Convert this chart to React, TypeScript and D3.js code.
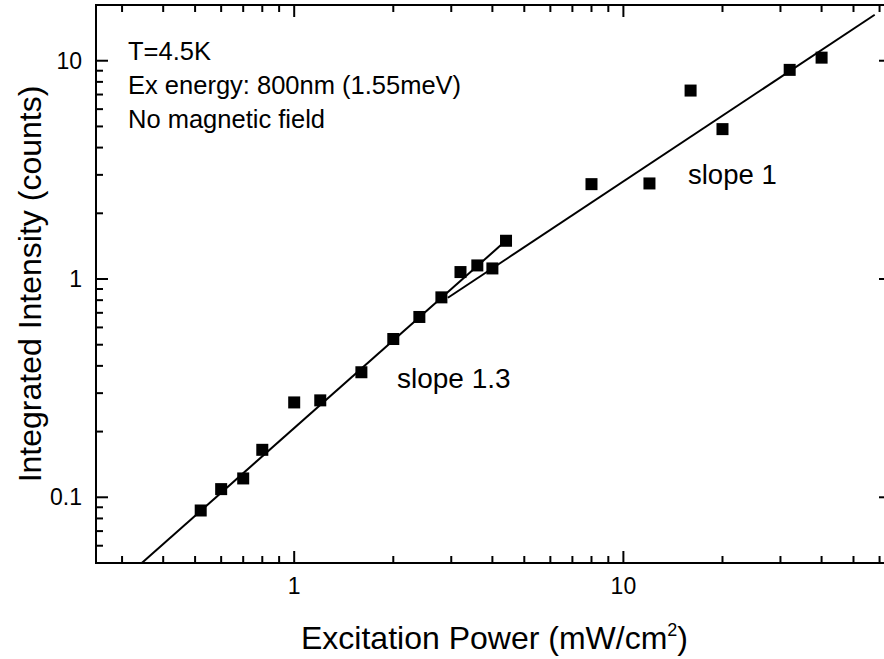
import React from "react";
import * as d3 from "d3";

// ---- data ----
const powers = [0.52, 0.6, 0.7, 0.8, 1.0, 1.2, 1.6, 2.0, 2.4, 2.8, 3.2, 3.6, 4.0, 4.4, 8, 12, 16, 20, 32, 40];
const intensities = [0.087, 0.109, 0.122, 0.165, 0.272, 0.278, 0.374, 0.531, 0.67, 0.824, 1.076, 1.154, 1.118, 1.497, 2.72, 2.74, 7.3, 4.86, 9.08, 10.33];

// power-law fits: I = amp * P^slope over [from, to]
const fitSlopes = [1.335, 1.0];
const fitAmps = [0.2075, 0.28];
const fitFrom = [0.3, 2.93];
const fitTo = [4.4, 58];

const xMajor = [1, 10];
const xMinor = [0.3, 0.4, 0.5, 0.6, 0.7, 0.8, 0.9, 2, 3, 4, 5, 6, 7, 8, 9, 20, 30, 40, 50, 60];
const yMajor = [0.1, 1, 10];
const yMinor = [0.06, 0.07, 0.08, 0.09, 0.2, 0.3, 0.4, 0.5, 0.6, 0.7, 0.8, 0.9, 2, 3, 4, 5, 6, 7, 8, 9];

const notes = ["T=4.5K", "Ex energy: 800nm (1.55meV)", "No magnetic field"];
const slopeLabels = ["slope 1.3", "slope 1"];

const W = 884;
const H = 659;
const L = 96, R = 891, T = 5, B = 563;
const FONT = "'Liberation Sans', Arial, sans-serif";

export default function App() {
  const x = d3.scaleLog().domain([0.25, 65]).range([L, R]);
  const y = d3.scaleLog().domain([0.05, 18]).range([B, T]);

  const fitPaths = fitSlopes.map((s, i) => {
    const pts: [number, number][] = [fitFrom[i], fitTo[i]].map((p) => [x(p), y(fitAmps[i] * Math.pow(p, s))]);
    return d3.line()(pts) as string;
  });

  const MAJ = 12, MIN = 7;
  const sq = 12;

  return (
    <svg width={W} height={H} style={{ position: "absolute", left: 0, top: 0, background: "#fff" }} fontFamily={FONT}>
      <rect x={0} y={0} width={W} height={H} fill="#fff" />
      <defs>
        <clipPath id="plot">
          <rect x={L} y={T} width={R - L} height={B - T} />
        </clipPath>
      </defs>
      {/* fit lines */}
      <g clipPath="url(#plot)">
        {fitPaths.map((d, i) => (
          <path key={i} d={d} fill="none" stroke="#000" strokeWidth={2} />
        ))}
      </g>
      {/* points */}
      {powers.map((p, i) => (
        <rect key={i} x={x(p) - sq / 2} y={y(intensities[i]) - sq / 2} width={sq} height={sq} fill="#000" />
      ))}
      {/* frame */}
      <rect x={L} y={T} width={R - L} height={B - T} fill="none" stroke="#000" strokeWidth={2} />
      {/* x ticks */}
      {xMajor.map((v) => (
        <g key={"xM" + v}>
          <line x1={x(v)} x2={x(v)} y1={B} y2={B - MAJ} stroke="#000" strokeWidth={2} />
          <line x1={x(v)} x2={x(v)} y1={T} y2={T + MAJ} stroke="#000" strokeWidth={2} />
          <text x={x(v)} y={594} textAnchor="middle" fontSize={23}>{String(v)}</text>
        </g>
      ))}
      {xMinor.map((v) => (
        <g key={"xm" + v}>
          <line x1={x(v)} x2={x(v)} y1={B} y2={B - MIN} stroke="#000" strokeWidth={2} />
          <line x1={x(v)} x2={x(v)} y1={T} y2={T + MIN} stroke="#000" strokeWidth={2} />
        </g>
      ))}
      {/* y ticks */}
      {yMajor.map((v) => (
        <g key={"yM" + v}>
          <line x1={L} x2={L + MAJ} y1={y(v)} y2={y(v)} stroke="#000" strokeWidth={2} />
          <line x1={R} x2={R - MAJ} y1={y(v)} y2={y(v)} stroke="#000" strokeWidth={2} />
          <text x={82} y={y(v) + 8} textAnchor="end" fontSize={23}>{String(v)}</text>
        </g>
      ))}
      {yMinor.map((v) => (
        <g key={"ym" + v}>
          <line x1={L} x2={L + MIN} y1={y(v)} y2={y(v)} stroke="#000" strokeWidth={2} />
          <line x1={R} x2={R - MIN} y1={y(v)} y2={y(v)} stroke="#000" strokeWidth={2} />
        </g>
      ))}
      {/* annotations */}
      {notes.map((t, i) => (
        <text key={t} x={128} y={60 + i * 34} fontSize={25.5}>{t}</text>
      ))}
      <text x={397} y={388} fontSize={28}>{slopeLabels[0]}</text>
      <text x={688} y={184} fontSize={27.5}>{slopeLabels[1]}</text>
      {/* axis titles */}
      <text x={(L + R) / 2 + 1} y={649} textAnchor="middle" fontSize={32}>
        Excitation Power (mW/cm<tspan dy={-13} fontSize={18}>2</tspan><tspan dy={13}>)</tspan>
      </text>
      <text transform={`translate(41, ${(T + B) / 2}) rotate(-90)`} textAnchor="middle" fontSize={32}>
        Integrated Intensity (counts)
      </text>
    </svg>
  );
}
